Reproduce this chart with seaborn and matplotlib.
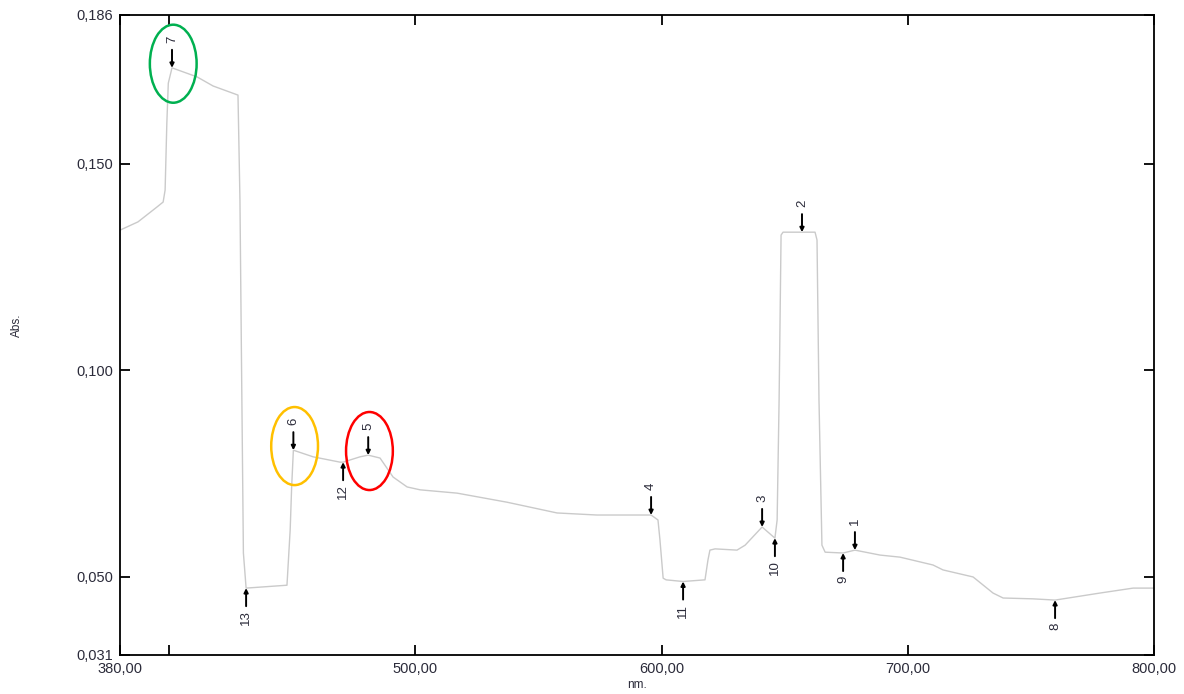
# -*- coding: utf-8 -*-
"""
plot.py — absorbance spectrum with picked peaks / valleys
  - grey spectrum line (380–800 nm)
  - numbered arrows on peaks (down) and valleys (up)
  - three highlighted peaks circled
"""
import numpy as np
import pandas as pd
import matplotlib
matplotlib.use("Agg")
import matplotlib.pyplot as plt
import seaborn as sns
from matplotlib.patches import Ellipse

# ──────────────────────────────────────────────────────────────
# DATA
# ──────────────────────────────────────────────────────────────
wavelength = [380.0, 387.3, 395.0, 397.5, 398.3, 399.0, 399.6, 401.1,
              411.3, 417.8, 427.9, 428.7, 429.4, 430.1, 431.2,
              447.8, 449.1, 449.7, 450.4,
              458.4, 469.4, 470.6, 477.5, 480.8, 485.6, 490.9, 496.6,
              501.9, 516.9, 537.2, 557.5, 573.7, 595.7,
              598.5, 599.3, 600.6, 601.8, 608.7, 617.6, 618.8, 619.6,
              621.7, 630.6, 633.9, 640.8, 646.0, 646.9, 647.7, 648.5,
              649.3, 657.0, 662.3, 663.1, 663.9, 665.1, 666.4,
              673.7, 678.5, 688.7, 696.8, 710.2, 714.3, 726.5, 734.6,
              738.7, 750.8, 759.8, 778.0, 791.5, 800.0]
absorbance = [0.1339, 0.1359, 0.1395, 0.1407, 0.1436, 0.1598, 0.1695, 0.1732,
              0.1710, 0.1688, 0.1666, 0.1412, 0.0976, 0.0557, 0.0472,
              0.0479, 0.0613, 0.0717, 0.0806,
              0.0790, 0.0777, 0.0777, 0.0790, 0.0794, 0.0787, 0.0741, 0.0717,
              0.0710, 0.0702, 0.0680, 0.0654, 0.0649, 0.0649,
              0.0637, 0.0589, 0.0496, 0.0492, 0.0488, 0.0492, 0.0540, 0.0564,
              0.0567, 0.0564, 0.0576, 0.0620, 0.0593, 0.0637, 0.0928, 0.1327,
              0.1334, 0.1334, 0.1334, 0.1315, 0.0928, 0.0576, 0.0559,
              0.0557, 0.0564, 0.0552, 0.0547, 0.0528, 0.0516, 0.0499, 0.0460,
              0.0448, 0.0446, 0.0443, 0.0460, 0.0472, 0.0472]

peak_labels = ["1", "2", "3", "4", "5", "6", "7"]
peak_nm     = [678.5, 657.0, 640.8, 595.7, 480.8, 450.4, 401.1]
peak_abs    = [0.0564, 0.1334, 0.0620, 0.0649, 0.0794, 0.0806, 0.1732]

valley_labels = ["8", "9", "10", "11", "12", "13"]
valley_nm     = [759.8, 673.7, 646.0, 608.7, 470.6, 431.2]
valley_abs    = [0.0443, 0.0557, 0.0593, 0.0488, 0.0777, 0.0472]

# peaks circled in the figure and their ring colours
circled       = ["7", "6", "5"]
circle_colors = ["#00b050", "#ffc000", "#ff0000"]

xtick_values = [380, 400, 500, 600, 700, 800]
xtick_labels = ["380,00", "", "500,00", "600,00", "700,00", "800,00"]
ytick_values = [0.031, 0.050, 0.100, 0.150, 0.186]
ytick_labels = ["0,031", "0,050", "0,100", "0,150", "0,186"]

# ──────────────────────────────────────────────────────────────
# STYLE
# ──────────────────────────────────────────────────────────────
sns.set_style("white")
plt.rcParams["font.family"] = ["Liberation Sans", "DejaVu Sans"]

TEXT_COL = "#2b2b3a"

fig = plt.figure(figsize=(11.84, 6.94), dpi=100)
ax = fig.add_axes([0.1014, 0.0562, 0.8733, 0.9222])

df = pd.DataFrame({"nm": wavelength, "abs": absorbance})
sns.lineplot(data=df, x="nm", y="abs", ax=ax, color="#cacaca", lw=1.0,
             sort=False, estimator=None)

ax.set_xlim(380, 800)
ax.set_ylim(0.031, 0.186)

ax.set_xticks(xtick_values)
ax.set_xticklabels(xtick_labels)
ax.set_yticks(ytick_values)
ax.set_yticklabels(ytick_labels)
ax.tick_params(direction="in", length=7, width=1.3, colors="black",
               labelcolor=TEXT_COL, labelsize=10.5,
               bottom=True, left=True, top=True, right=True, pad=5)

for sp in ax.spines.values():
    sp.set_visible(True)
    sp.set_color("black")
    sp.set_linewidth(1.3)

ax.set_xlabel("nm.", fontsize=8.5, color=TEXT_COL)
ax.set_ylabel("Abs.", fontsize=8.5, color=TEXT_COL)
ax.xaxis.set_label_coords(0.5, -0.038)
ax.yaxis.set_label_coords(-0.094, 0.515)


# ──────────────────────────────────────────────────────────────
# PEAK / VALLEY MARKERS
# ──────────────────────────────────────────────────────────────
def mark(label, x, y, up):
    """Arrow pointing at (x, y) with a rotated number beyond it."""
    sign = 1 if up else -1
    ax.annotate("", xy=(x, y), xytext=(0, sign * 13),
                textcoords="offset points",
                arrowprops=dict(arrowstyle="-|>", color="black", lw=1.4,
                                mutation_scale=6, shrinkA=0, shrinkB=0))
    ax.annotate(label, xy=(x, y), xytext=(0, 18 if up else -16),
                textcoords="offset points", rotation=90,
                ha="center", va="bottom" if up else "top",
                fontsize=9.5, color=TEXT_COL)


for lab, x, y in zip(peak_labels, peak_nm, peak_abs):
    mark(lab, x, y, up=True)
for lab, x, y in zip(valley_labels, valley_nm, valley_abs):
    mark(lab, x, y, up=False)

# rings round the highlighted peaks
for lab, col in zip(circled, circle_colors):
    i = peak_labels.index(lab)
    ring = Ellipse((peak_nm[i] + 0.5, peak_abs[i] + 0.0010),
                   width=19, height=0.0189,
                   fill=False, edgecolor=col, lw=1.8, zorder=5)
    ax.add_patch(ring)

fig.savefig("out.png", dpi=100, facecolor="white")
